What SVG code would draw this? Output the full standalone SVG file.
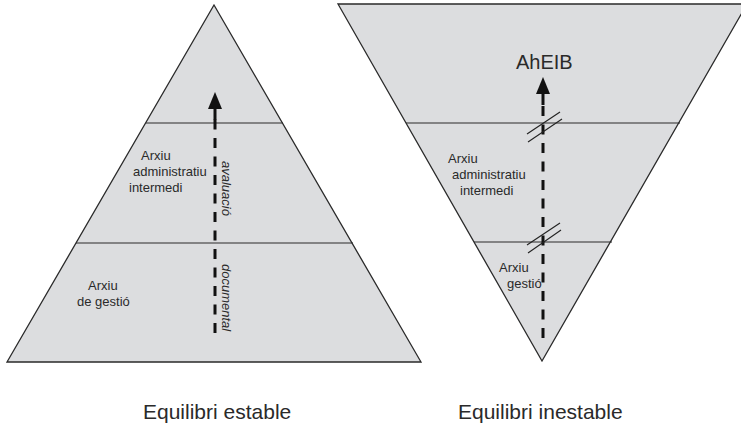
<svg xmlns="http://www.w3.org/2000/svg" width="741" height="426" viewBox="0 0 741 426">
<defs>
<style>
.tri{fill:#dcdddf;stroke:#2a2a2a;stroke-width:1.3}
.div{stroke:#2a2a2a;stroke-width:1.1;fill:none}
.lbl{font-family:"Liberation Sans",Arial,sans-serif;font-size:13px;fill:#2a2a2a}
.it{font-family:"Liberation Sans",Arial,sans-serif;font-size:13px;font-style:italic;fill:#2a2a2a}
.cap{font-family:"Liberation Sans",Arial,sans-serif;font-size:21px;fill:#2a2a2a}
.dash{stroke:#111;stroke-width:3;stroke-dasharray:10 8.5;fill:none}
.head{fill:#111}
.brk{stroke:#222;stroke-width:1.1;fill:none}
</style>
</defs>
<rect width="741" height="426" fill="#ffffff"/>
<g id="stable">
<polygon class="tri" points="214,5 421,362 7,362"/>
<line class="div" x1="146" y1="123" x2="283" y2="123"/>
<line class="div" x1="76" y1="243" x2="353" y2="243"/>
<text class="lbl" x="141" y="160">Arxiu</text>
<text class="lbl" x="133" y="176">administratiu</text>
<text class="lbl" x="129" y="192">intermedi</text>
<text class="lbl" x="88" y="290">Arxiu</text>
<text class="lbl" x="77" y="306">de gestió</text>
<text class="it" transform="translate(222,161) rotate(90)">avaluació</text>
<text class="it" transform="translate(222,264) rotate(90)">documental</text>
</g>
<g id="unstable">
<polygon class="tri" points="338,4 747,4 542,361"/>
<line class="div" x1="406" y1="123" x2="680" y2="123"/>
<line class="div" x1="474" y1="242" x2="612" y2="242"/>
<text class="cap" x="516" y="69" style="font-size:20px">AhEIB</text>
<text class="lbl" x="448" y="163">Arxiu</text>
<text class="lbl" x="452" y="179">administratiu</text>
<text class="lbl" x="460" y="195">intermedi</text>
<text class="lbl" x="499" y="272">Arxiu</text>
<text class="lbl" x="507" y="288">gestió</text>
</g>
<g id="connectors">
<path class="dash" d="M215,333 L215,119"/>
<line x1="215" y1="108" x2="215" y2="120" stroke="#111" stroke-width="3"/>
<polygon class="head" points="215,92 222,109 208,109"/>
<path class="dash" d="M543,338 L543,104"/>
<line x1="543" y1="93" x2="543" y2="105" stroke="#111" stroke-width="3"/>
<polygon class="head" points="543,77 550,94 536,94"/>
<line class="brk" x1="527" y1="134" x2="560" y2="112"/>
<line class="brk" x1="528" y1="142" x2="562" y2="119"/>
<line class="brk" x1="527" y1="245" x2="560" y2="223"/>
<line class="brk" x1="528" y1="253" x2="561" y2="230"/>
</g>
<g id="captions">
<text class="cap" x="143" y="419">Equilibri estable</text>
<text class="cap" x="458" y="419">Equilibri inestable</text>
</g>
</svg>
